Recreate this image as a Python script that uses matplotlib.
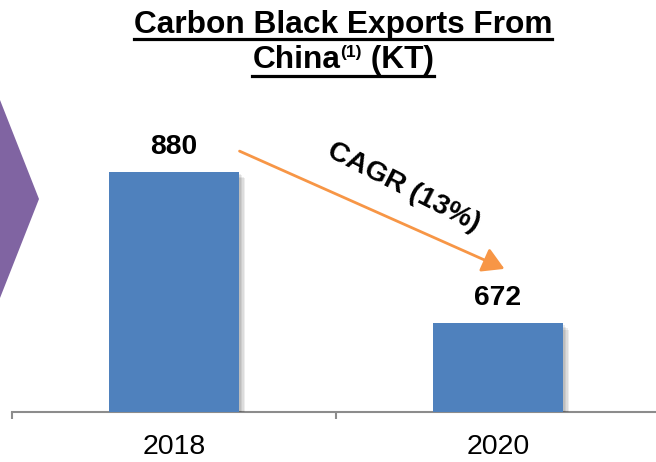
import matplotlib
matplotlib.use("Agg")
import matplotlib.pyplot as plt
import matplotlib.patheffects as pe
from matplotlib.patches import Polygon, FancyArrowPatch
from matplotlib.lines import Line2D

plt.rcParams['font.family'] = ['Liberation Sans', 'DejaVu Sans']

# ---------- DATA ----------
years = ["2018", "2020"]
exports_kt = [880, 672]
cagr_label = "CAGR (13%)"

BLUE = "#4F81BD"
ORANGE = "#F79646"
PURPLE = "#8064A2"
W, H = 656, 462

fig = plt.figure(figsize=(W / 100, H / 100), dpi=100)

# axes spans past the right edge so the third boundary tick falls off-canvas
ax = fig.add_axes([12 / W, 50 / H, 648 / W, 312 / H])
ax.set_xlim(-0.5, 1.5)
ax.set_ylim(550, 979)

x = range(len(years))
shadow = [pe.SimplePatchShadow(offset=(o, -o), shadow_rgbFace="#000000", alpha=0.07)
          for o in (1.5, 2.5, 3.5, 4.5)] + [pe.Normal()]
bars = ax.bar(x, exports_kt, width=0.4, color=BLUE, zorder=3, path_effects=shadow)

for xi, v in zip(x, exports_kt):
    ax.annotate(f"{v}", (xi, v), xytext=(0, 13), textcoords="offset points",
                ha="center", va="baseline", fontsize=20.3, fontweight="bold")

for s in ("top", "right", "left"):
    ax.spines[s].set_visible(False)
ax.spines["bottom"].set_color("#8C8C8C")
ax.spines["bottom"].set_linewidth(1.5)
ax.set_yticks([])
ax.set_xticks([-0.5, 0.5, 1.5])
ax.set_xticklabels([])
ax.tick_params(axis="x", which="major", length=5, width=1.5, color="#8C8C8C")
ax.set_xticks(list(x), minor=True)
ax.set_xticklabels(years, minor=True, fontsize=20.5)
ax.tick_params(axis="x", which="minor", length=0, pad=16)

# CAGR arrow between the two bars
arrow = FancyArrowPatch((237 / W, 1 - 150 / H), (507 / W, 1 - 270 / H),
                        transform=fig.transFigure, arrowstyle="-|>,head_length=6,head_width=3.5",
                        color=ORANGE, lw=2, mutation_scale=2.2)
fig.patches.append(arrow)
fig.text(404 / W, 1 - 187 / H, cagr_label, rotation=-27, ha="center", va="center",
         fontsize=20.5, fontweight="bold", rotation_mode="anchor")

# purple chevron at the left edge
chev = Polygon([(0, 1 - 100 / H), (39 / W, 1 - 199 / H), (0, 1 - 298 / H)],
               closed=True, transform=fig.transFigure, color=PURPLE, lw=0)
fig.patches.append(chev)

# ---------- TITLE (underlined, with superscript) ----------
renderer = fig.canvas.get_renderer()
cx = 343 / W

t1 = fig.text(cx, 1 - 33 / H, "Carbon Black Exports From", ha="center", va="baseline",
              fontsize=22.8, fontweight="bold")
bb = t1.get_window_extent(renderer)
fig.add_artist(Line2D([bb.x0 / W, bb.x1 / W], [1 - 38.5 / H] * 2, color="black", lw=2.3,
                      transform=fig.transFigure))

parts = [("China", 22.8, 0), ("(1)", 12.5, 11), (" (KT)", 22.8, 0)]
texts = []
for s, fs, rise in parts:
    texts.append(fig.text(0, 0, s, fontsize=fs, fontweight="bold", va="baseline"))
widths = [t.get_window_extent(renderer).width for t in texts]
total = sum(widths)
xpos = cx * W - total / 2
x_start = xpos
for t, (s, fs, rise), w in zip(texts, parts, widths):
    t.set_position((xpos / W, (H - 68 + rise) / H))
    xpos += w
fig.add_artist(Line2D([x_start / W, xpos / W], [1 - 75.5 / H] * 2, color="black", lw=2.3,
                      transform=fig.transFigure))

fig.savefig("out.png", dpi=100)
